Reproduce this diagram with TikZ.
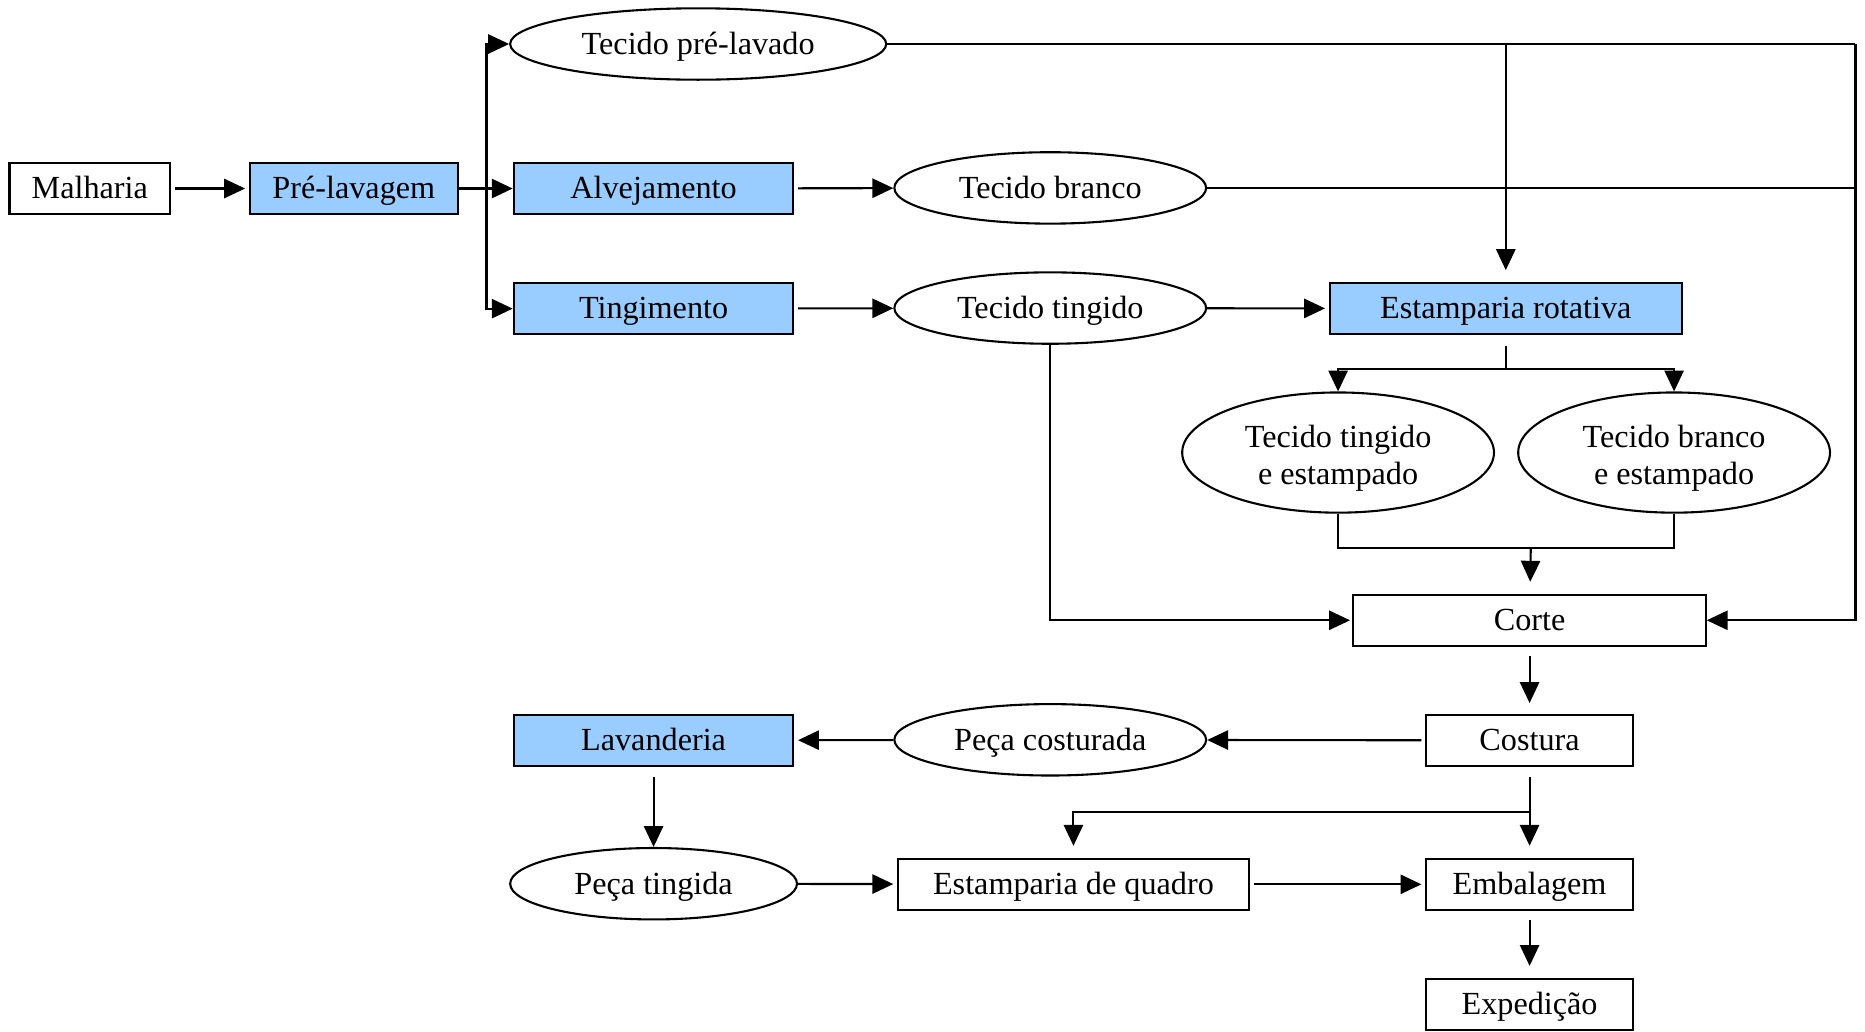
\documentclass[tikz,border=0pt]{standalone}
\usepackage{fontspec}
\setmainfont{Liberation Serif}
\usepackage{xcolor}
\usetikzlibrary{shapes.geometric,arrows.meta,calc}
\definecolor{azul}{HTML}{99CCFF}

\begin{document}
\begin{tikzpicture}
	[   x=0.01cm, y=-0.01cm, line width=0.5pt,
	    bnode/.style={draw=black,fill=#1,minimum height=4.3mm,inner sep=0pt,text height=6.3pt,text depth=1.6pt,font=\fontsize{7.7}{8.8}\selectfont},
	    bnode/.default=white,
	    enode/.style={draw=black,fill=white,ellipse,minimum width=#1,minimum height=6mm,inner sep=0pt,text height=6.6pt,text depth=1.6pt,font=\fontsize{7.7}{8.8}\selectfont},
	]
	\tikzset{normal arrow/.style={draw,-{Triangle[length=5pt,width=4.6pt]}}}
	\useasboundingbox (0,0) rectangle (1568,867);
	
	\node[bnode,minimum width=13.5mm] (mal) at (75.5,158.5) {Malharia};
	\node[bnode=azul,minimum width=17.5mm] (pre) at (297.5,158.5) {Pré-lavagem};
	\node[bnode=azul,minimum width=23.5mm] (alv) at (549.5,158.5) {Alvejamento};
	\node[bnode=azul,minimum width=23.5mm] (tin) at (549.5,259.5) {Tingimento};
	\node[enode=31.6mm] (tpl) at (587,37) {Tecido pré-lavado};
	\node[enode=26.2mm] (tbr) at (883,158) {Tecido branco};
	\node[enode=26.2mm] (tti) at (883,259) {Tecido tingido};
	\node[bnode=azul,minimum width=29.6mm] (erot) at (1266,259.5) {Estamparia rotativa};
	\node[enode=26.2mm,minimum height=10.1mm,text height=12pt,text depth=5pt] (tte) at (1125,380.5)
		{\begin{tabular}{@{}c@{}}Tecido tingido\\e estampado\end{tabular}};
	\node[enode=26.2mm,minimum height=10.1mm,text height=12pt,text depth=5pt] (tbe) at (1407.5,380.5)
		{\begin{tabular}{@{}c@{}}Tecido branco\\e estampado\end{tabular}};
	\node[bnode,minimum width=29.6mm] (cor) at (1286,521.5) {Corte};
	\node[bnode,minimum width=17.4mm] (cos) at (1286,622.5) {Costura};
	\node[enode=26.2mm] (pcos) at (883,622) {Peça costurada};
	\node[bnode=azul,minimum width=23.5mm] (lav) at (549.5,622.5) {Lavanderia};
	\node[enode=24.1mm] (ptin) at (549.5,743) {Peça tingida};
	\node[bnode,minimum width=29.5mm] (eq) at (902.5,743.5) {Estamparia de quadro};
	\node[bnode,minimum width=17.4mm] (emb) at (1286,743.5) {Embalagem};
	\node[bnode,minimum width=17.4mm] (exp) at (1286,844.5) {Expedição};
	
	\coordinate (br) at (409,158.5);
	\coordinate (ne) at (1560,37);
	\coordinate (j1) at (1266,310);
	\coordinate (j2) at (1287,461);
	\coordinate (j3) at (1286,683);
	
	% inicio
	\path[normal arrow,shorten <=0.3mm,shorten >=0.3mm] (mal) -- (pre);
	\draw (pre) -- (br);
	\foreach \n in {tpl,alv,tin}
	{
		\path[normal arrow] (br) |- (\n);
	}
	\path[normal arrow,shorten <=0.3mm] (alv) -- (tbr);
	\path[normal arrow,shorten <=0.3mm] (tin) -- (tti);
	\path[normal arrow,shorten >=0.3mm] (tti) -- (erot);
	
	% linhas da direita
	\draw (tpl) -- (ne);
	\draw (tbr) -- (tbr -| ne);
	\path[normal arrow] (ne) |- (cor);
	\path[normal arrow,shorten >=1mm] (tpl -| erot) -- (erot);
	
	% estamparia rotativa
	\draw[shorten <=0.9mm] (erot) -- (j1);
	\foreach \n in {tte,tbe}
	{
		\path[normal arrow] (j1) -| (\n);
		\draw (\n) |- (j2);
	}
	\path[normal arrow,shorten >=1mm] (j2) -- (cor);
	\path[normal arrow,shorten >=0.2mm] (tti) |- (cor);
	
	% confeccao
	\path[normal arrow,shorten <=0.8mm,shorten >=0.9mm] (cor) -- (cos);
	\path[normal arrow,shorten <=0.3mm] (cos) -- (pcos);
	\path[normal arrow,shorten >=0.3mm] (pcos) -- (lav);
	\path[normal arrow,shorten <=0.8mm] (lav) -- (ptin);
	\draw[shorten <=0.8mm] (cos) -- (j3);
	\path[normal arrow,shorten >=1mm] (j3) -- (emb);
	\path[normal arrow,shorten >=1mm] (j3) -| (eq);
	\path[normal arrow,shorten >=0.3mm] (ptin) -- (eq);
	\path[normal arrow,shorten <=0.3mm,shorten >=0.3mm] (eq) -- (emb);
	\path[normal arrow,shorten <=0.8mm,shorten >=1mm] (emb) -- (exp);

\end{tikzpicture}
\end{document}
